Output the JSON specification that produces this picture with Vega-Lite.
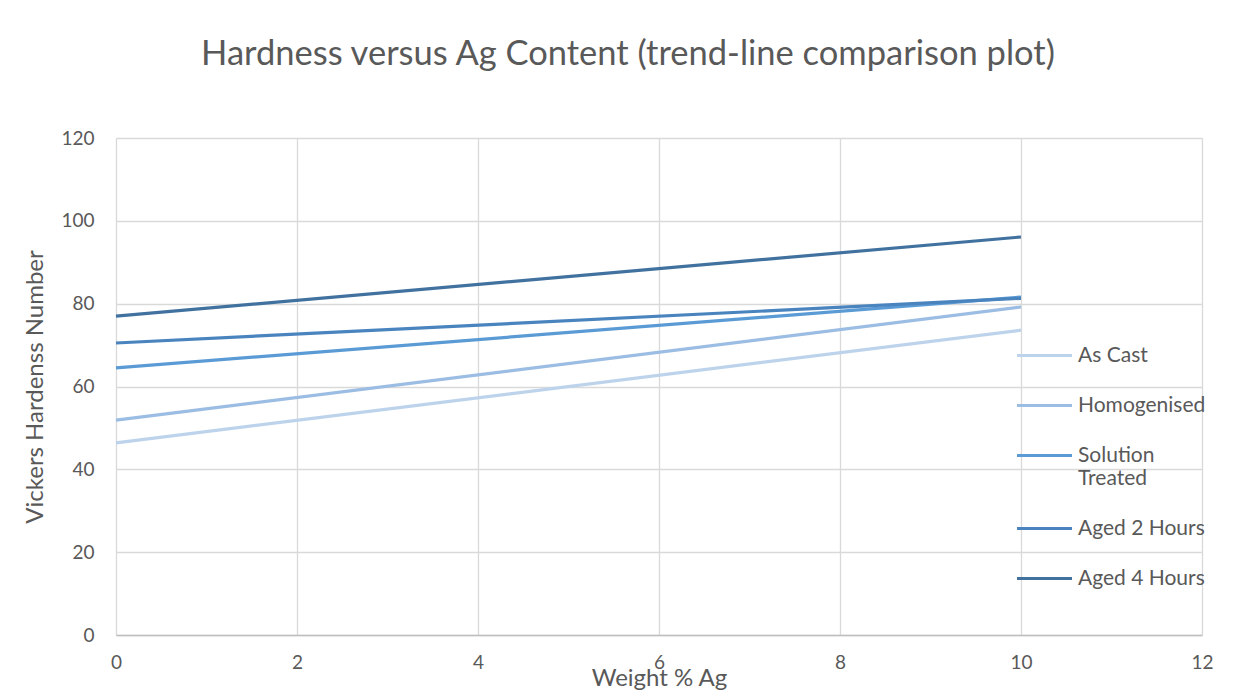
{
  "$schema": "https://vega.github.io/schema/vega-lite/v6.json",
  "width": 1086,
  "height": 497,
  "autosize": {"type": "none"},
  "padding": {"left": 116, "top": 138, "right": 52, "bottom": 60},
  "background": "white",
  "config": {
    "font": "Lato",
    "view": {"stroke": null},
    "axis": {
      "gridColor": "#d9d9d9",
      "gridWidth": 1.3,
      "labelColor": "#595959",
      "titleColor": "#595959",
      "labelFont": "Lato",
      "titleFont": "Lato",
      "labelFontSize": 19,
      "titleFontSize": 24,
      "titleFontWeight": "normal",
      "ticks": false
    }
  },
  "title": {
    "text": "Hardness versus Ag Content (trend-line comparison plot)",
    "font": "Lato",
    "fontSize": 34.5,
    "fontWeight": "normal",
    "color": "#595959",
    "anchor": "middle",
    "dx": -31,
    "offset": 57
  },
  "data": {
    "values": [
      {"series": "As Cast", "ag": 0, "hv": 46.4},
      {"series": "As Cast", "ag": 10, "hv": 73.6},
      {"series": "Homogenised", "ag": 0, "hv": 51.9},
      {"series": "Homogenised", "ag": 10, "hv": 79.2},
      {"series": "Solution Treated", "ag": 0, "hv": 64.5},
      {"series": "Solution Treated", "ag": 10, "hv": 81.6},
      {"series": "Aged 2 Hours", "ag": 0, "hv": 70.5},
      {"series": "Aged 2 Hours", "ag": 10, "hv": 81.3},
      {"series": "Aged 4 Hours", "ag": 0, "hv": 77.0},
      {"series": "Aged 4 Hours", "ag": 10, "hv": 96.1}
    ]
  },
  "mark": {"type": "line", "strokeWidth": 3.2},
  "encoding": {
    "x": {
      "field": "ag",
      "type": "quantitative",
      "scale": {"domain": [0, 12], "nice": false},
      "axis": {
        "title": "Weight % Ag",
        "values": [0, 2, 4, 6, 8, 10, 12],
        "labelFlush": false,
        "labelPadding": 18,
        "titlePadding": -6,
        "domainColor": "#bfbfbf",
        "domainWidth": 1.5
      }
    },
    "y": {
      "field": "hv",
      "type": "quantitative",
      "scale": {"domain": [0, 120], "nice": false},
      "axis": {
        "title": "Vickers Hardenss Number",
        "values": [0, 20, 40, 60, 80, 100, 120],
        "labelPadding": 22,
        "titlePadding": 13,
        "domain": false
      }
    },
    "color": {
      "field": "series",
      "type": "nominal",
      "sort": ["As Cast", "Homogenised", "Solution Treated", "Aged 2 Hours", "Aged 4 Hours"],
      "scale": {
        "domain": ["As Cast", "Homogenised", "Solution Treated", "Aged 2 Hours", "Aged 4 Hours"],
        "range": ["#bdd3ec", "#9bbde3", "#5b9bd5", "#4a84bf", "#41729f"]
      },
      "legend": {
        "title": null,
        "orient": "none",
        "legendX": 899,
        "legendY": 188,
        "symbolType": "M-1,0H1",
        "symbolSize": 3025,
        "symbolStrokeWidth": 3.2,
        "labelFont": "Lato",
        "labelFontSize": 21,
        "labelColor": "#595959",
        "labelOffset": 4,
        "labelLimit": 300,
        "rowPadding": 10,
        "labelExpr": "datum.label == 'Solution Treated' ? ['Solution', 'Treated'] : datum.label"
      }
    }
  }
}
